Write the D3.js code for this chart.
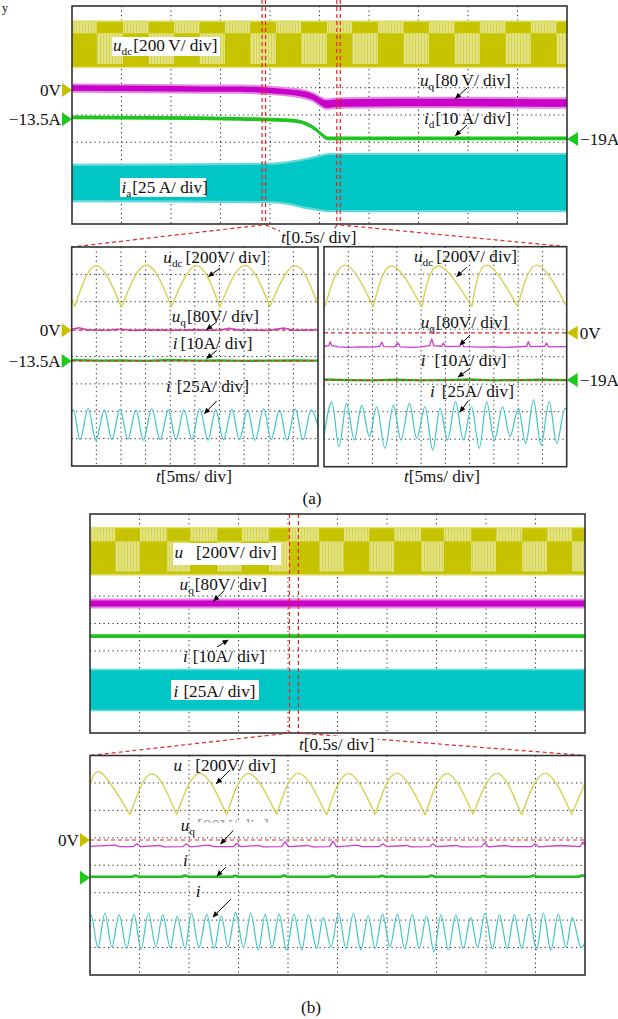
<!DOCTYPE html>
<html><head><meta charset="utf-8">
<script src="https://cdn.jsdelivr.net/npm/d3@7"></script>
<style>
html,body{margin:0;padding:0;background:#fff;}
svg{display:block;}
text{font-family:"Liberation Serif","Times New Roman",serif;fill:#111;}
</style></head><body>
<svg id="c" width="618" height="1019" font-family="Liberation Serif, Times New Roman, serif"></svg>
<script>
// ================= DATA (oscilloscope divisions: x 0..10 left->right, y 0..8 top->bottom) =================
const gridX = [1,2,3,4,5,6,7,8,9];
const gridY = [1,2,3,4,5,6,7];

// ---- (a) long record ----
const aUdcBand = [0.58, 2.23];
const aUdcSplit = 1.0;
const aUdcLightTop = [[0,0.5],[1.03,1.55],[2.06,2.58],[3.09,3.6],[4.12,4.63],[5.15,5.66],[6.18,6.7],[7.21,7.73],[8.24,8.76],[9.27,9.79]];
const aUdcLightBot = [[0.5,1.03],[1.55,2.06],[2.58,3.09],[3.6,4.12],[4.63,5.15],[5.66,6.18],[6.7,7.21],[7.73,8.24],[8.76,9.27],[9.79,10]];
const aUqT    = [0,1.58,2.59,3.39,4.0,4.4,4.74,4.87,4.97,5.05,5.13,5.41,6.63,10];
const aUqV    = [3.01,3.03,3.05,3.05,3.10,3.16,3.26,3.34,3.45,3.54,3.60,3.56,3.54,3.56];
const aUqHalf = [0.12,0.12,0.12,0.12,0.12,0.12,0.13,0.13,0.14,0.15,0.16,0.16,0.16,0.16];
const aIdT = [0,3.39,4.40,4.74,4.94,5.08,5.16,10];
const aIdV = [4.09,4.14,4.20,4.33,4.55,4.77,4.86,4.86];
const aIdHalf = 0.07;
const aIaT   = [0,4.0,4.40,4.75,5.01,5.21,10];
const aIaTop = [5.87,5.83,5.76,5.65,5.54,5.47,5.47];
const aIaBot = [7.12,7.16,7.23,7.38,7.45,7.49,7.49];
const aWindows = [[3.84,3.91],[5.35,5.42]];
const aRefs = [
  {v:3.08, color:'yellow', text:'0V',     side:'L'},
  {v:4.16, color:'green',  text:'\u221213.5A', side:'L'},
  {v:4.88, color:'green',  text:'\u221219A',   side:'R'}
];

// ---- (a) zoom left (before step) ----
const alUdcStart = [0, 1.9];
const alUdcValleyX = [0.12,2.02,4.05,6.02,8.05,10.0];
const alUdcValleyY = [2.18,2.20,2.18,2.20,2.18,2.12];
const alUdcPeakX = [1.0,3.03,5.07,7.03,9.07];
const alUdcPeakY = [0.68,0.66,0.68,0.67,0.68];
const alUqX = [0,0.3,0.6,1,1.5,2,2.5,3,3.5,4,4.5,5,5.5,6,6.4,6.8,7.3,8,8.6,9,9.5,10];
const alUqY = [3.0,2.95,3.02,3.04,3.03,3.0,3.05,3.03,3.02,3.05,3.03,3.02,3.04,3.03,2.97,3.04,3.03,3.05,2.96,3.04,3.03,3.03];
const alIdX = [0,1,2,3,4,5,6,7,8,9,10];
const alIdY = [4.13,4.15,4.14,4.16,4.13,4.15,4.14,4.16,4.15,4.14,4.15];
const alIaPeakX = [0.07,0.67,1.33,1.96,2.61,3.25,3.93,4.56,5.2,5.85,6.5,7.14,7.79,8.44,9.08,9.72];
const alIaPeakY = [5.95,5.9,5.95,5.92,5.95,5.9,5.95,5.95,5.9,5.95,5.92,5.95,5.9,5.95,5.92,5.95];
const alIaTroughX = [0.34,0.98,1.63,2.28,2.91,3.59,4.23,4.88,5.53,6.16,6.81,7.45,8.10,8.74,9.39];
const alIaTroughY = [7.04,7.06,7.04,7.02,7.06,7.04,7.05,7.03,7.06,7.04,7.04,7.06,7.03,7.05,7.04];
const alIaEnds = [[0,6.05],[10,6.55]];
const alRefs = [
  {v:3.04, color:'yellow', text:'0V', side:'L', dashed:true},
  {v:4.16, color:'green', text:'\u221213.5A', side:'L', dashed:true}
];

// ---- (a) zoom right (after step) ----
const arUdcStart = [0, 2.05];
const arUdcValleyX = [0.04,2.03,4.03,6.09,7.98,9.96];
const arUdcValleyY = [2.18,2.18,2.20,2.18,2.18,2.12];
const arUdcPeakX = [0.87,2.79,4.71,6.70,8.76];
const arUdcPeakY = [0.67,0.70,0.70,0.67,0.67];
const arUdcEnd = [10, 2.05];
const arUq = [[0,3.62],[0.2,3.6],[0.25,3.45],[0.32,3.6],[0.6,3.64],[1.0,3.66],[1.5,3.64],[2.0,3.65],[2.3,3.62],[2.38,3.47],[2.46,3.63],[2.9,3.64],[3.06,3.5],[3.14,3.64],[3.6,3.66],[4.0,3.64],[4.35,3.6],[4.44,3.35],[4.52,3.6],[4.85,3.62],[4.92,3.5],[5.0,3.63],[5.6,3.62],[5.67,3.45],[5.75,3.63],[6.5,3.65],[7.0,3.64],[7.5,3.66],[8.0,3.64],[8.35,3.62],[8.42,3.45],[8.5,3.63],[9.1,3.62],[9.17,3.5],[9.25,3.64],[10,3.63]];
const arIdX = [0,1,2,3,4,5,6,7,8,9,10];
const arIdY = [4.83,4.85,4.86,4.84,4.86,4.85,4.83,4.86,4.85,4.84,4.85];
const arIaPeakX = [0.32,0.93,1.55,2.17,2.86,3.52,4.16,4.78,5.42,6.08,6.70,7.36,8.01,8.63,9.28,9.93];
const arIaPeakY = [5.64,5.70,5.76,5.82,5.76,5.70,5.82,5.88,5.64,5.82,5.64,5.82,5.88,5.57,5.64,5.88];
const arIaTroughX = [0.62,1.25,1.87,2.51,3.17,3.82,4.48,5.09,5.74,6.40,7.02,7.66,8.31,8.94,9.59];
const arIaTroughY = [7.27,7.03,6.91,7.33,7.03,6.97,7.39,7.03,7.03,7.33,7.03,6.91,7.15,7.21,7.15];
const arIaEnds = [[0,6.9],[10,5.95]];
const arRefs = [
  {v:3.13, color:'yellow', text:'0V', side:'R', dashed:true},
  {v:4.85, color:'green', text:'\u221219A', side:'R', dashed:true}
];

// ---- (b) long record ----
const bUdcBand = [0.52, 2.2];
const bUdcSplit = 1.0;
const bUdcLightTop = [[0,0.51],[1.01,1.56],[2.02,2.57],[3.07,3.62],[4.02,4.63],[5.13,5.64],[6.14,6.69],[7.15,7.70],[8.20,8.73],[9.23,9.74]];
const bUdcLightBot = [[0.51,1.01],[1.56,2.02],[2.57,3.07],[3.62,4.02],[4.63,5.13],[5.64,6.14],[6.69,7.15],[7.70,8.20],[8.73,9.23],[9.74,10]];
const bUqT = [0,10], bUqV = [3.27,3.27], bUqHalf = [0.13,0.13];
const bIdT = [0,10], bIdV = [4.46,4.46], bIdHalf = 0.07;
const bIaT = [0,10], bIaTop = [5.72,5.72], bIaBot = [7.14,7.14];
const bWindows = [[4.03,4.21]];

// ---- (b) zoom ----
const bbUdcStart = [0, 1.07];
const bbUdcValleyX = [0.81,1.75,2.76,3.77,4.78,5.76,6.77,7.74,8.72,9.73];
const bbUdcValleyY = [2.17,2.15,2.17,2.15,2.17,2.15,2.17,2.15,2.17,2.15];
const bbUdcPeakX = [0.24,1.25,2.22,3.20,4.21,5.22,6.20,7.21,8.22,9.19];
const bbUdcPeakY = [0.65,0.67,0.65,0.66,0.65,0.66,0.65,0.66,0.65,0.65];
const bbUdcEnd = [10, 1.0];
const bbUq = [[0,3.31],[0.5,3.27],[0.6,3.32],[0.88,3.32],[0.95,3.22],[1.02,3.32],[1.4,3.28],[1.5,3.33],[1.88,3.32],[1.95,3.22],[2.02,3.33],[2.4,3.27],[2.5,3.32],[2.9,3.32],[2.97,3.2],[3.04,3.32],[3.4,3.28],[3.5,3.33],[3.87,3.32],[3.94,3.14],[4.01,3.32],[4.4,3.28],[4.5,3.33],[4.84,3.32],[4.91,3.12],[4.98,3.33],[5.4,3.27],[5.5,3.32],[5.85,3.32],[5.92,3.22],[5.99,3.32],[6.4,3.28],[6.5,3.33],[6.86,3.32],[6.93,3.22],[7.0,3.32],[7.4,3.28],[7.5,3.33],[7.91,3.32],[7.98,3.18],[8.05,3.33],[8.4,3.28],[8.5,3.32],[8.92,3.32],[8.99,3.22],[9.06,3.33],[9.5,3.28],[9.9,3.32],[9.96,3.15],[10,3.3]];
const bbId = [[0,4.42],[0.85,4.42],[0.92,4.37],[1.0,4.42],[1.85,4.42],[1.92,4.37],[2.0,4.42],[2.87,4.42],[2.94,4.38],[3.01,4.42],[3.85,4.42],[3.92,4.37],[3.99,4.42],[4.83,4.42],[4.9,4.37],[4.97,4.42],[5.83,4.42],[5.9,4.38],[5.97,4.42],[6.83,4.42],[6.9,4.37],[6.97,4.42],[7.88,4.42],[7.95,4.38],[8.02,4.42],[8.89,4.42],[8.96,4.37],[9.03,4.42],[9.87,4.42],[9.94,4.37],[10,4.41]];
const bbIaPeakX = [0.02,0.30,0.59,0.89,1.18,1.47,1.76,2.05,2.36,2.65,2.94,3.25,3.54,3.82,4.12,4.41,4.71,5.02,5.32,5.62,5.91,6.21,6.51,6.80,7.09,7.39,7.69,7.98,8.27,8.57,8.87,9.16,9.46,9.74];
const bbIaPeakY = [5.81,5.75,5.81,5.79,5.75,5.81,5.87,5.75,5.79,5.84,5.72,5.75,5.79,5.78,5.79,5.81,5.91,5.75,5.75,5.84,5.78,5.78,5.79,5.85,5.81,5.81,5.91,5.75,5.81,5.81,5.79,5.75,5.79,5.91];
const bbIaTroughX = [0.16,0.44,0.74,1.03,1.33,1.62,1.92,2.20,2.51,2.79,3.10,3.40,3.68,3.97,4.28,4.58,4.87,5.17,5.47,5.76,6.06,6.36,6.65,6.95,7.24,7.54,7.83,8.13,8.43,8.72,9.02,9.31,9.62,9.92];
const bbIaTroughY = [7.00,6.97,7.03,7.05,6.97,7.00,7.03,7.00,7.03,6.97,7.00,7.09,7.00,7.09,7.09,7.03,6.97,7.03,7.09,7.03,6.97,7.05,7.03,7.15,7.09,7.03,7.00,7.05,7.03,7.03,7.09,7.09,7.00,7.00];
const bbIaEnds = [[0,5.85],[10,6.85]];
const bbRefs = [
  {v:3.08, color:'yellow', text:'0V', side:'L', dashed:true},
  {v:4.46, color:'green', text:'', side:'L', dashed:false}
];

// ================= LAYOUT =================
const svg = d3.select('#c');
const FONT = 17.2;
const COL = {
  udcDark:'#c6c400', udcLight:'#e3e384', udcHatch:'#cfcd3a', udcLine:'#d4d252',
  uq:'#c800c8', uqFringe:'#e28ae2', uqLine:'#cf3ccf',
  id:'#1fc41f', idLine:'#22bb22',
  ia:'#00c6c6', iaFringe:'#5fd8d8', iaLine:'#3ec6c6',
  red:'#e02828', yellow:'#c6c000', green:'#1ec81e', grid:'#222', border:'#333'
};
function panel(b){ return {x:d3.scaleLinear([0,10],[b[0],b[1]]), y:d3.scaleLinear([0,8],[b[2],b[3]]), b}; }
const P = {
  A:  panel([72,567,6,224]),
  AL: panel([71.7,318,247,466]),
  AR: panel([324,566.7,246.7,466.7]),
  B:  panel([90,585,514,733]),
  BB: panel([90,585,755.5,975])
};

const defs = svg.append('defs');
const pat = defs.append('pattern').attr('id','hatch').attr('patternUnits','userSpaceOnUse').attr('width',3).attr('height',4);
pat.append('rect').attr('width',3).attr('height',4).attr('fill',COL.udcLight);
pat.append('rect').attr('x',1).attr('width',0.9).attr('height',4).attr('fill',COL.udcHatch).attr('opacity',0.75);
defs.append('marker').attr('id','ah').attr('viewBox','0 0 10 10').attr('refX',9).attr('refY',5)
  .attr('markerWidth',7).attr('markerHeight',6).attr('orient','auto')
  .append('path').attr('d','M0,0.5L10,5L0,9.5z').attr('fill','#000');

function grid(p){
  const g = svg.append('g');
  g.selectAll('line.gx').data(gridX).join('line')
    .attr('x1',d=>p.x(d)).attr('x2',d=>p.x(d)).attr('y1',p.y(0)).attr('y2',p.y(8))
    .attr('stroke',COL.grid).attr('stroke-width',1).attr('stroke-dasharray','1.2,3.3');
  g.selectAll('line.gy').data(gridY).join('line')
    .attr('y1',d=>p.y(d)).attr('y2',d=>p.y(d)).attr('x1',p.x(0)).attr('x2',p.x(10))
    .attr('stroke',COL.grid).attr('stroke-width',1).attr('stroke-dasharray','1.2,3.3');
}
function border(p){
  svg.append('rect').attr('x',p.x(0)).attr('y',p.y(0)).attr('width',p.x(10)-p.x(0)).attr('height',p.y(8)-p.y(0))
    .attr('fill','none').attr('stroke',COL.border).attr('stroke-width',1.6);
}
function udcBand(p, band, split, lightTop, lightBot){
  const g = svg.append('g');
  g.append('rect').attr('x',p.x(0)).attr('width',p.x(10)-p.x(0)).attr('y',p.y(band[0])-1.5).attr('height',p.y(band[1])-p.y(band[0])+3).attr('fill',COL.udcLight);
  g.append('rect').attr('x',p.x(0)).attr('width',p.x(10)-p.x(0)).attr('y',p.y(band[0])).attr('height',p.y(band[1])-p.y(band[0])).attr('fill',COL.udcDark);
  g.selectAll('rect.lt').data(lightTop).join('rect').attr('x',d=>p.x(d[0])).attr('width',d=>p.x(d[1])-p.x(d[0]))
    .attr('y',p.y(band[0])).attr('height',p.y(split)-p.y(band[0])).attr('fill','url(#hatch)');
  g.selectAll('rect.lb').data(lightBot).join('rect').attr('x',d=>p.x(d[0])).attr('width',d=>p.x(d[1])-p.x(d[0]))
    .attr('y',p.y(split)).attr('height',p.y(band[1]-0.1)-p.y(split)).attr('fill','url(#hatch)');
}
function bandArea(p, T, top, bot, fill, ext){
  const data = T.map((t,i)=>({t, a:top[i]-ext, b:bot[i]+ext}));
  svg.append('path').datum(data)
    .attr('d', d3.area().curve(d3.curveMonotoneX).x(d=>p.x(d.t)).y0(d=>p.y(d.a)).y1(d=>p.y(d.b)))
    .attr('fill', fill);
}
function centerBand(p, T, V, H, fill, ext){
  const half = Array.isArray(H) ? H : T.map(()=>H);
  bandArea(p, T, V.map((v,i)=>v-half[i]), V.map((v,i)=>v+half[i]), fill, ext);
}
function trace(p, pts, color, w, curve){
  svg.append('path').datum(pts)
    .attr('d', d3.line().curve(curve||d3.curveLinear).x(d=>p.x(d[0])).y(d=>p.y(d[1])))
    .attr('fill','none').attr('stroke',color).attr('stroke-width',w).attr('stroke-linejoin','round');
}
function humps(p, start, vx, vy, px, py, end){
  const segs = [];
  if (vx[0] > px[0]) {
    segs.push([start,[px[0],py[0]],[vx[0],vy[0]]]);
    for (let i=0;i<vx.length-1;i++) segs.push([[vx[i],vy[i]],[px[i+1],py[i+1]],[vx[i+1],vy[i+1]]]);
  } else {
    segs.push([start,[vx[0],vy[0]]]);
    for (let i=0;i<vx.length-1;i++) segs.push([[vx[i],vy[i]],[px[i],py[i]],[vx[i+1],vy[i+1]]]);
  }
  if (end) segs.push([[vx[vx.length-1],vy[vy.length-1]], end]);
  segs.forEach(s => trace(p, s, COL.udcLine, 1.4, s.length>2 ? d3.curveNatural : d3.curveLinear));
}
function sineTrace(p, peakX, peakY, trX, trY, ends){
  const pts = peakX.map((x,i)=>[x,peakY[i]]).concat(trX.map((x,i)=>[x,trY[i]])).concat(ends);
  pts.sort((a,b)=>a[0]-b[0]);
  trace(p, pts, COL.iaLine, 1.2, d3.curveMonotoneX);
}
function refMarks(p, refs){
  refs.forEach(r=>{
    const y = p.y(r.v);
    const c = r.color==='yellow' ? COL.yellow : COL.green;
    if (r.dashed) svg.append('line').attr('x1',p.x(0)).attr('x2',p.x(10)).attr('y1',y).attr('y2',y)
      .attr('stroke',COL.red).attr('stroke-width',1.2).attr('stroke-dasharray','4,3');
    if (r.side==='L'){
      const x = p.x(0);
      svg.append('path').attr('d',`M${x-10},${y-7}L${x},${y}L${x-10},${y+7}Z`).attr('fill',c);
      if (r.text) svg.append('text').attr('x',x-11).attr('y',y+5.8).attr('text-anchor','end').attr('font-size',FONT).text(r.text);
    } else {
      const x = p.x(10);
      svg.append('path').attr('d',`M${x+11},${y-7}L${x},${y}L${x+11},${y+7}Z`).attr('fill',c);
      if (r.text) svg.append('text').attr('x',x+13).attr('y',y+5.8).attr('font-size',FONT).text(r.text);
    }
  });
}
function label(x, y, parts, color){
  const t = svg.append('text').attr('x',x).attr('y',y).attr('font-size',FONT);
  if (color) t.style('fill',color);
  let shifted = false;
  parts.forEach(([s,st,dx])=>{
    const ts = t.append('tspan').text(s);
    if (st.includes('i')) ts.attr('font-style','italic');
    if (st.includes('s')) { ts.attr('font-size',FONT*0.66).attr('dy',4); shifted=true; }
    else if (shifted) { ts.attr('dy',-4); shifted=false; }
    if (dx) ts.attr('dx',dx);
  });
  return t;
}
function whiteBox(x,y,w,h){ svg.append('rect').attr('x',x).attr('y',y).attr('width',w).attr('height',h).attr('fill','#fff'); }
function arrow(x1,y1,x2,y2){
  svg.append('line').attr('x1',x1).attr('y1',y1).attr('x2',x2).attr('y2',y2)
    .attr('stroke','#000').attr('stroke-width',1).attr('marker-end','url(#ah)');
}
function dashed(x1,y1,x2,y2){
  svg.append('line').attr('x1',x1).attr('y1',y1).attr('x2',x2).attr('y2',y2)
    .attr('stroke',COL.red).attr('stroke-width',1.2).attr('stroke-dasharray','4,3');
}

// ================= DRAW =================
// stray glyph at the top-left corner of the page
svg.append('text').attr('x',2).attr('y',12).attr('font-size',12).text('y');

// ---------- (a) long record ----------
{
  const p = P.A;
  grid(p);
  udcBand(p, aUdcBand, aUdcSplit, aUdcLightTop, aUdcLightBot);
  centerBand(p, aUqT, aUqV, aUqHalf, COL.uqFringe, 0.05);
  centerBand(p, aUqT, aUqV, aUqHalf, COL.uq, -0.02);
  centerBand(p, aIdT, aIdV, aIdHalf, COL.id, 0);
  bandArea(p, aIaT, aIaTop, aIaBot, COL.iaFringe, 0.08);
  bandArea(p, aIaT, aIaTop, aIaBot, COL.ia, 0);
  refMarks(p, aRefs);
  aWindows.flat().forEach(t=> dashed(p.x(t), 0, p.x(t), p.y(8)+1));
  border(p);
  whiteBox(112,37,108,19);
  label(113,51,[['u','i'],['dc','s'],['[200\u2009V/ div]','',1]]);
  label(420,86,[['u','i'],['q','s'],['[80\u2009V/ div]','',1]]);
  arrow(467,88,455.5,98.5);
  label(424,124,[['i','i'],['d','s'],['[10\u2009A/ div]','',1]]);
  arrow(467,125,455.5,135.5);
  whiteBox(120,178,86,19);
  label(121.5,193,[['i','i'],['a','s'],['[25\u2009A/ div]','',1]]);
}
// connectors to zoom panels
{
  const p = P.A, yb = p.y(8)+1;
  dashed(p.x(aWindows[0][0]), yb, P.AL.x(0), P.AL.y(0));
  dashed(p.x(aWindows[0][1]), yb, P.AL.x(10), P.AL.y(0));
  dashed(p.x(aWindows[1][0]), yb, P.AR.x(0), P.AR.y(0));
  dashed(p.x(aWindows[1][1]), yb, P.AR.x(10), P.AR.y(0));
  whiteBox(280,229,78,17);
  label(281,243,[['t','i'],['[0.5s/ div]','']]);
}
// ---------- (a) zoom left ----------
{
  const p = P.AL;
  grid(p);
  humps(p, alUdcStart, alUdcValleyX, alUdcValleyY, alUdcPeakX, alUdcPeakY, null);
  trace(p, alUqX.map((x,i)=>[x,alUqY[i]]), COL.uqLine, 1.5);
  trace(p, alIdX.map((x,i)=>[x,alIdY[i]]), COL.idLine, 2.4);
  sineTrace(p, alIaPeakX, alIaPeakY, alIaTroughX, alIaTroughY, alIaEnds);
  refMarks(p, alRefs);
  border(p);
  label(163.3,262.7,[['u','i'],['dc','s'],['[200V/ div]','',3]]);
  arrow(220,268.3,208.5,276.5);
  label(171.7,321.7,[['u','i'],['q','s'],['[80V/ div]','',1]]);
  arrow(216.7,322,206.7,329.5);
  label(172.7,349,[['i','i'],['[10A/ div]','',3]]);
  arrow(216.7,350.5,206.7,358.5);
  label(166,392,[['i','i'],['[25A/ div]','',6]]);
  arrow(216.7,401,204.5,413.5);
  label(156,482,[['t','i'],['[5ms/ div]','']]);
}
// ---------- (a) zoom right ----------
{
  const p = P.AR;
  grid(p);
  humps(p, arUdcStart, arUdcValleyX, arUdcValleyY, arUdcPeakX, arUdcPeakY, arUdcEnd);
  trace(p, arUq, COL.uqLine, 1.3);
  trace(p, arIdX.map((x,i)=>[x,arIdY[i]]), COL.idLine, 2.4);
  sineTrace(p, arIaPeakX, arIaPeakY, arIaTroughX, arIaTroughY, arIaEnds);
  refMarks(p, arRefs);
  border(p);
  label(414,261.7,[['u','i'],['dc','s'],['[200V/ div]','',3]]);
  arrow(466.7,267.3,456.7,276.5);
  label(420.7,328.3,[['u','i'],['q','s'],['[80V/ div]','',1]]);
  arrow(470,335,460,345);
  label(420.7,365.7,[['i','i'],['[10A/ div]','',9]]);
  arrow(470,368.3,458.3,377);
  label(430,396.7,[['i','i'],['[25A/ div]','',7]]);
  arrow(468.3,400.7,460,412);
  label(404,481.7,[['t','i'],['[5ms/ div]','']]);
}
svg.append('text').attr('x',312).attr('y',504).attr('text-anchor','middle').attr('font-size',FONT).text('(a)');

// ---------- (b) long record ----------
{
  const p = P.B;
  grid(p);
  udcBand(p, bUdcBand, bUdcSplit, bUdcLightTop, bUdcLightBot);
  centerBand(p, bUqT, bUqV, bUqHalf, COL.uqFringe, 0.05);
  centerBand(p, bUqT, bUqV, bUqHalf, COL.uq, -0.02);
  centerBand(p, bIdT, bIdV, bIdHalf, COL.id, 0);
  bandArea(p, bIaT, bIaTop, bIaBot, COL.iaFringe, 0.07);
  bandArea(p, bIaT, bIaTop, bIaBot, COL.ia, 0);
  bWindows.flat().forEach(t=> dashed(p.x(t), p.y(0), p.x(t), p.y(8)));
  border(p);
  whiteBox(173,543,108,22);
  label(174.5,558,[['u','i'],['[200V/ div]','',13]]);
  label(179.6,590,[['u','i'],['q','s'],['[80V/ div]','',1]]);
  arrow(224.3,590.5,213.6,601);
  label(183,662,[['i','i'],['[10A/ div]','',5]]);
  arrow(217,647,228,640);
  whiteBox(171,680,88,20);
  label(173.6,697,[['i','i'],['[25A/ div]','',5]]);
}
{
  const p = P.B, yb = p.y(8);
  dashed(p.x(bWindows[0][0]), yb, P.BB.x(0), P.BB.y(0));
  dashed(p.x(bWindows[0][1]), yb, P.BB.x(10), P.BB.y(0));
  whiteBox(298,736,80,17);
  label(299,750,[['t','i'],['[0.5s/ div]','']]);
}
// ---------- (b) zoom ----------
{
  const p = P.BB;
  grid(p);
  humps(p, bbUdcStart, bbUdcValleyX, bbUdcValleyY, bbUdcPeakX, bbUdcPeakY, bbUdcEnd);
  trace(p, bbUq, COL.uqLine, 1.3);
  trace(p, bbId, COL.idLine, 2.6);
  sineTrace(p, bbIaPeakX, bbIaPeakY, bbIaTroughX, bbIaTroughY, bbIaEnds);
  refMarks(p, bbRefs);
  border(p);
  label(173.6,771,[['u','i'],['[200V/ div]','',13]]);
  arrow(230,770,216.5,783.5);
  label(197,831,[['[80V/ div]','']], '#999');
  whiteBox(194,822.5,92,12);
  label(180.7,831,[['u','i'],['q','s']]);
  arrow(233.2,830.5,220.7,844);
  label(183,866,[['i','i']]);
  arrow(226,867,217,876);
  label(195.7,897,[['i','i']]);
  arrow(230.7,899.3,213,917);
}
svg.append('text').attr('x',311).attr('y',1013).attr('text-anchor','middle').attr('font-size',FONT).text('(b)');
</script>
</body></html>
